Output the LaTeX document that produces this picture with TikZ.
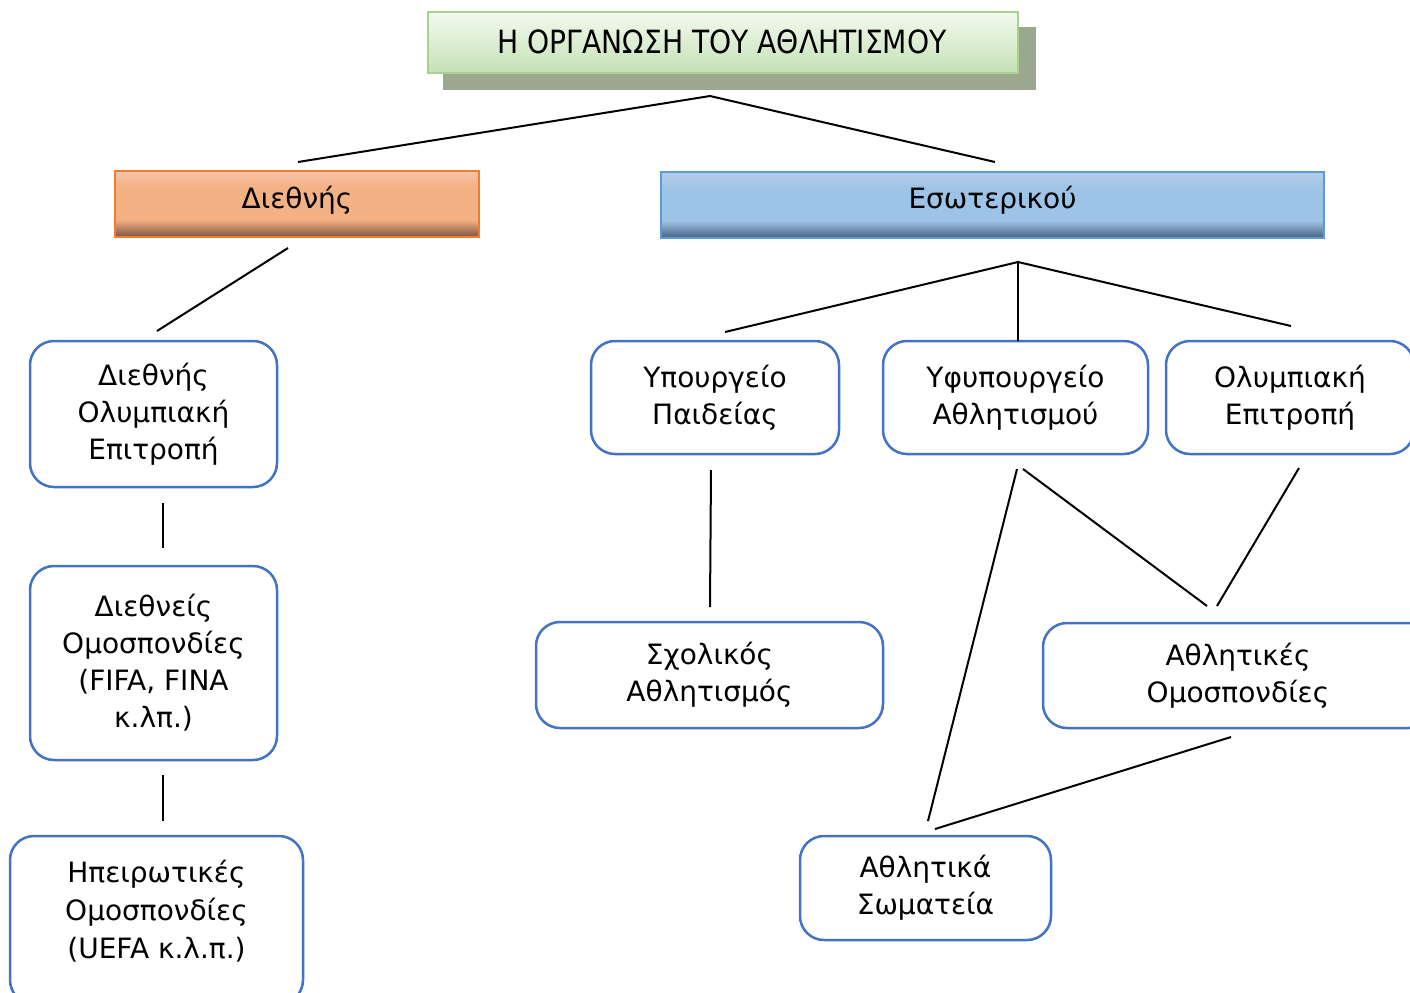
\documentclass[tikz,border=0pt]{standalone}
\usepackage{fontspec}
\setmainfont{DejaVu Sans}
\newfontfamily\titlefont[FakeStretch=0.88]{DejaVu Sans}
\definecolor{boxblue}{HTML}{4472C4}
\definecolor{orDark}{HTML}{7E5342}
\definecolor{orBase}{HTML}{F4B183}
\definecolor{orLight}{HTML}{F6C3A6}
\definecolor{orLine}{HTML}{ED7D31}
\definecolor{blDark}{HTML}{45607F}
\definecolor{blBase}{HTML}{9DC3E6}
\definecolor{blLight}{HTML}{B3CDE8}
\definecolor{blLine}{HTML}{5B9BD5}
\definecolor{grTop}{HTML}{F3FAEF}
\definecolor{grBot}{HTML}{C5E0B4}
\definecolor{grLine}{HTML}{A9D18E}
\definecolor{grShadow}{HTML}{9BA78F}
\pgfdeclareverticalshading{orangebar}{100bp}{color(0bp)=(orDark); color(25bp)=(orDark); color(38bp)=(orBase); color(62bp)=(orBase); color(75bp)=(orLight); color(100bp)=(orLight)}
\pgfdeclareverticalshading{bluebar}{100bp}{color(0bp)=(blDark); color(25bp)=(blDark); color(38bp)=(blBase); color(62bp)=(blBase); color(75bp)=(blLight); color(100bp)=(blLight)}
\tikzset{
  rbox/.style={draw=boxblue, line width=1.25pt, rounded corners=12pt, fill=white,
    align=center, inner sep=0pt, font=\fontsize{14}{18.5}\selectfont},
  hdr/.style={line width=0.8pt, align=center, inner sep=0pt, font=\fontsize{14}{18.5}\selectfont},
  conn/.style={line width=1pt, black},
}
\begin{document}
\begin{tikzpicture}[x=0.5pt, y=-0.5pt]
\useasboundingbox (0,0) rectangle (1410,992);
% title
\fill[grShadow] (443,27) rectangle (1036,90);
\node[draw=grLine, line width=1pt, top color=grTop, bottom color=grBot, minimum width=295pt, minimum height=30.5pt, inner sep=0pt] (title) at (723,42.5) {};
\node[inner sep=0pt, font=\titlefont\fontsize{16}{18}\selectfont] (titletext) at (722,41.5) {Η ΟΡΓΑΝΩΣΗ ΤΟΥ ΑΘΛΗΤΙΣΜΟΥ};
% headers
\node[hdr, draw=orLine, shading=orangebar, minimum width=182pt, minimum height=33pt] (diethnis) at (297,204) {};
\node[inner sep=0pt, font=\fontsize{14}{18.5}\selectfont] (diethnistext) at (297,200) {Διεθνής};
\node[hdr, draw=blLine, shading=bluebar, minimum width=331.5pt, minimum height=33pt] (eswt) at (992.5,205) {};
\node[inner sep=0pt, font=\fontsize{14}{18.5}\selectfont] (eswttext) at (992.5,200) {Εσωτερικού};
% left column
\node[rbox, minimum width=123.5pt, minimum height=73pt] (doe) at (153.5,414) {Διεθνής\\Ολυμπιακή\\Επιτροπή};
\node[rbox, minimum width=123.5pt, minimum height=97pt] (diom) at (153.5,663) {Διεθνείς\\Ομοσπονδίες\\(FIFA, FINA\\κ.λπ.)};
\node[rbox, minimum width=146.5pt, minimum height=84pt] (ipeirbox) at (156.5,920) {};
\node[align=center, inner sep=0pt, font=\fontsize{14}{19}\selectfont] (ipeir) at (156.5,911) {Ηπειρωτικές\\Ομοσπονδίες\\(UEFA κ.λ.π.)};
% right side
\node[rbox, minimum width=124pt, minimum height=56.5pt] (ypaid) at (715,397.5) {Υπουργείο\\Παιδείας};
\node[rbox, minimum width=132.5pt, minimum height=56.5pt] (yfyp) at (1015.5,397.5) {Υφυπουργείο\\Αθλητισμού};
\node[rbox, minimum width=124pt, minimum height=56.5pt] (olymp) at (1290,397.5) {Ολυμπιακή\\Επιτροπή};
\node[rbox, minimum width=173.5pt, minimum height=53pt] (sxol) at (709.5,675) {Σχολικός\\Αθλητισμός};
\node[rbox, minimum width=195pt, minimum height=52.5pt] (athlom) at (1238,675.5) {Αθλητικές\\Ομοσπονδίες};
\node[rbox, minimum width=125.5pt, minimum height=52pt] (swm) at (925.5,888) {Αθλητικά\\Σωματεία};
% connector end points
\coordinate (t0) at (710,96);
\coordinate (t1) at (298,162);
\coordinate (t2) at (995,162);
\coordinate (d0) at (288,248);
\coordinate (d1) at (157,331);
\coordinate (l1a) at (163,503);
\coordinate (l1b) at (163,548);
\coordinate (l2a) at (163,775);
\coordinate (l2b) at (163,821);
\coordinate (e0) at (1018,262);
\coordinate (e1) at (725,332);
\coordinate (e2) at (1018,341);
\coordinate (e3) at (1291,326);
\coordinate (p0) at (711,470);
\coordinate (p1) at (710,607);
\coordinate (y0) at (1017,469);
\coordinate (y1) at (928,821);
\coordinate (y2) at (1023,469);
\coordinate (y3) at (1207,606);
\coordinate (o0) at (1299,468);
\coordinate (o1) at (1217,606);
\coordinate (a0) at (1231,737);
\coordinate (a1) at (935,829);
% connectors
\draw[conn] (t1) -- (t0) -- (t2);
\draw[conn] (d0) -- (d1);
\draw[conn] (l1a) -- (l1b);
\draw[conn] (l2a) -- (l2b);
\draw[conn] (e1) -- (e0) -- (e3);
\draw[conn] (e0) -- (e2);
\draw[conn] (p0) -- (p1);
\draw[conn] (y0) -- (y1);
\draw[conn] (y2) -- (y3);
\draw[conn] (o0) -- (o1);
\draw[conn] (a0) -- (a1);
\end{tikzpicture}
\end{document}
